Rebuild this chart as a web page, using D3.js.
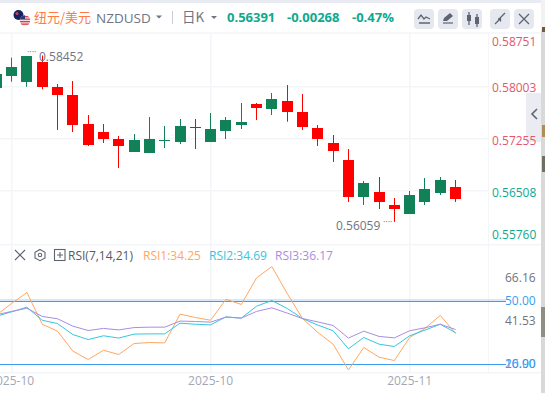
<!DOCTYPE html>
<html>
<head>
<meta charset="utf-8">
<script src="https://cdn.jsdelivr.net/npm/d3@7"></script>
<style>
    html, body { margin: 0; padding: 0; background: #fff; overflow: hidden; }
    svg { display: block; }
    text { font-family: "Open Sans", "Noto Sans CJK SC", sans-serif; }
</style>
</head>
<body>
<script>
const opens = [0.57989, 0.58161, 0.58075, 0.58358, 0.57999, 0.57884, 0.57467, 0.57352, 0.57251, 0.57064, 0.57050, 0.57226, 0.57208, 0.57419, 0.57208, 0.57366, 0.57452, 0.57754, 0.57682, 0.57797, 0.57639, 0.57409, 0.57194, 0.56949, 0.56418, 0.56489, 0.56303, 0.56173, 0.56346, 0.56475, 0.56561];
const highs = [0.58243, 0.58420, 0.58444, 0.58452, 0.58042, 0.58085, 0.57596, 0.57467, 0.57294, 0.57323, 0.57567, 0.57438, 0.57539, 0.57539, 0.57625, 0.57567, 0.57769, 0.57769, 0.57912, 0.58027, 0.57898, 0.57452, 0.57309, 0.57107, 0.56648, 0.56705, 0.56403, 0.56504, 0.56691, 0.56705, 0.56662];
const lows = [0.57956, 0.58075, 0.58003, 0.57966, 0.57381, 0.57352, 0.57151, 0.57194, 0.56834, 0.57064, 0.57050, 0.57122, 0.57179, 0.57107, 0.57208, 0.57251, 0.57395, 0.57524, 0.57596, 0.57500, 0.57381, 0.57151, 0.56921, 0.56346, 0.56303, 0.56245, 0.56059, 0.56173, 0.56303, 0.56446, 0.56346];
const closes = [0.58186, 0.58286, 0.58444, 0.58003, 0.57888, 0.57452, 0.57165, 0.57251, 0.57151, 0.57237, 0.57251, 0.57233, 0.57438, 0.57412, 0.57395, 0.57524, 0.57496, 0.57697, 0.57826, 0.57639, 0.57428, 0.57251, 0.57079, 0.56418, 0.56619, 0.56346, 0.56245, 0.56446, 0.56533, 0.56662, 0.56391];

const rsi1 = [43.0, 48.6, 53.8, 38.7, 35.4, 25.9, 21.9, 26.3, 24.3, 29.5, 30.0, 29.8, 43.5, 41.9, 40.6, 50.6, 48.1, 60.8, 66.16, 53.3, 41.4, 34.8, 29.2, 16.9, 27.6, 23.0, 21.4, 32.4, 36.7, 42.9, 34.25];
const rsi2 = [42.5, 44.6, 46.8, 40.6, 39.0, 33.8, 31.4, 33.2, 32.1, 34.0, 34.1, 34.1, 39.2, 38.7, 38.4, 42.2, 41.6, 47.3, 50.0, 46.2, 41.4, 38.3, 35.6, 27.0, 32.4, 29.2, 28.1, 33.2, 35.9, 38.7, 34.69];
const rsi3 = [43.2, 44.8, 46.3, 42.4, 41.3, 37.8, 35.7, 36.7, 36.0, 37.1, 37.3, 37.3, 40.2, 40.0, 39.7, 42.1, 41.6, 44.8, 46.5, 44.0, 41.4, 39.8, 38.1, 32.1, 35.4, 32.9, 32.2, 35.6, 37.0, 38.7, 36.17];

const priceTicks = [0.58751, 0.58003, 0.57255, 0.56508, 0.55760];
const rsiTicks = [66.16, 50.00, 41.53, 20.00, 16.90];
const rsiLevels = [50, 20];
const timeLabels = ['2025-10', '2025-10', '2025-11'];
const timeIndex = [1, 14, 27];

const width = 545,
    height = 393;

const GREEN = '#118258',
    RED = '#ff0000',
    TEAL = '#0ea98e',
    TICK_RED = '#e4566b',
    GREY = '#6f7482',
    GRID = '#f4f5f8',
    BTN = '#e6e8ef',
    ICON = '#5f6472',
    BLUE = '#3b9cf2';

const svg = d3.select('body')
    .append('svg')
    .attr('width', width)
    .attr('height', height);

const xScale = d3.scaleLinear()
    .domain([0, 30])
    .range([-3.7, 455.6]);

const yPrice = d3.scaleLinear()
    .domain([0.58003, 0.56508])
    .range([86.7, 190.7]);

const yRsi = d3.scaleLinear()
    .domain([50, 20])
    .range([300.5, 363.5]);

// page frame
svg.append('rect').attr('width', width).attr('height', 3).attr('fill', '#e8ebf1');
svg.append('rect').attr('y', 32).attr('width', 541).attr('height', 2).attr('fill', '#f6f7fa');

// grid
const grid = svg.append('g').attr('fill', GRID);
[0.58003, 0.57255, 0.56508].forEach(v => {
    grid.append('rect').attr('x', 0).attr('y', Math.round(yPrice(v)) - 1).attr('width', 488).attr('height', 1.5);
});
timeIndex.forEach(i => {
    grid.append('rect').attr('x', Math.floor(xScale(i))).attr('y', 33).attr('width', 1.5).attr('height', 339);
});
grid.append('rect').attr('x', 488).attr('y', 33).attr('width', 1).attr('height', 339);
grid.append('rect').attr('x', 0).attr('y', 244).attr('width', 541).attr('height', 1.5);
grid.append('rect').attr('x', 0).attr('y', 372).attr('width', 541).attr('height', 1.5);

// candles
const candles = svg.append('g')
    .selectAll('g')
    .data(d3.range(opens.length))
    .enter()
    .append('g')
    .attr('fill', i => closes[i] >= opens[i] ? GREEN : RED);

candles.append('rect')
    .attr('x', i => Math.floor(xScale(i)))
    .attr('y', i => yPrice(highs[i]))
    .attr('width', 1)
    .attr('height', i => yPrice(lows[i]) - yPrice(highs[i]));

candles.append('rect')
    .attr('x', i => Math.floor(xScale(i)) - 5)
    .attr('y', i => Math.round(yPrice(Math.max(opens[i], closes[i]))))
    .attr('width', 11)
    .attr('height', i => Math.max(1, Math.round(Math.abs(yPrice(opens[i]) - yPrice(closes[i])))));

// high / low marks
svg.append('text').attr('x', 27).attr('y', 55).attr('font-size', 9).attr('fill', GREY).text('····');
svg.append('text').attr('x', 39).attr('y', 61).attr('font-size', 12).attr('fill', GREY).text('0.58452');
svg.append('text').attr('x', 336).attr('y', 229.5).attr('font-size', 12).attr('fill', GREY).text('0.56059');
svg.append('text').attr('x', 383).attr('y', 225).attr('font-size', 9).attr('fill', GREY).text('····');

// side drawer tab
svg.append('rect').attr('x', 526).attr('y', 93).attr('width', 15).attr('height', 49).attr('fill', '#ebebf2');
svg.append('path').attr('d', 'M537 109l-5 5 5 5').attr('fill', 'none').attr('stroke', ICON).attr('stroke-width', 1.6);

// price labels, first and last are pushed inside the panel
const priceLabelY = d3.scaleOrdinal().domain(priceTicks).range([46, 92, 145, 197, 238.5]);
svg.append('g')
    .selectAll('text')
    .data(priceTicks)
    .enter()
    .append('text')
    .attr('x', 492)
    .attr('y', d => priceLabelY(d))
    .attr('font-size', 12)
    .attr('fill', (d, i) => i < 3 ? TICK_RED : TEAL)
    .text(d => d3.format('.5f')(d));

// right edge of the screenshot
svg.append('rect').attr('x', 541).attr('width', 4).attr('height', height).attr('fill', '#d9d9d9');
svg.append('rect').attr('x', 541).attr('y', 0).attr('width', 4).attr('height', 30).attr('fill', '#f2f2f2');
svg.append('rect').attr('x', 542).attr('y', 27).attr('width', 3).attr('height', 5).attr('fill', '#6b5a3e');
svg.append('rect').attr('x', 542).attr('y', 125).attr('width', 3).attr('height', 12).attr('fill', '#b08d57');
svg.append('rect').attr('x', 542).attr('y', 156).attr('width', 3).attr('height', 16).attr('fill', '#6f6f60');
svg.append('rect').attr('x', 541).attr('y', 307).attr('width', 4).attr('height', 30).attr('fill', '#8e8e82');

// header
const flags = svg.append('g');
flags.append('circle').attr('cx', 18.5).attr('cy', 15).attr('r', 5).attr('fill', '#12235f');
flags.append('circle').attr('cx', 17).attr('cy', 13.5).attr('r', 1.5).attr('fill', '#c9434f');
const usClip = svg.append('clipPath').attr('id', 'us-flag');
usClip.append('circle').attr('cx', 25).attr('cy', 20.5).attr('r', 5.2);
const us = flags.append('g').attr('clip-path', 'url(#us-flag)');
us.append('rect').attr('x', 19).attr('y', 15).attr('width', 12).attr('height', 12).attr('fill', '#f7dcdc');
[16, 18.5, 21, 23.5].forEach(y => {
    us.append('rect').attr('x', 19).attr('y', y).attr('width', 12).attr('height', 1.3).attr('fill', '#d9404a');
});
us.append('rect').attr('x', 19).attr('y', 15).attr('width', 6).attr('height', 4).attr('fill', '#2b3a78');

svg.append('text').attr('x', 34).attr('y', 22).attr('font-size', 13).attr('fill', '#ff7a45')
    .style('font-family', '"Noto Sans CJK SC", sans-serif').text('纽元/美元');
svg.append('text').attr('x', 96).attr('y', 22.5).attr('font-size', 13.5).attr('fill', GREY).text('NZDUSD');
svg.append('path').attr('d', 'M156 15.5h6l-3 3z').attr('fill', GREY);
svg.append('rect').attr('x', 172).attr('y', 11).attr('width', 1).attr('height', 13).attr('fill', '#c9ccd4');
svg.append('text').attr('x', 182).attr('y', 21.5).attr('font-size', 13.5).attr('fill', GREY)
    .style('font-family', '"Noto Sans CJK SC", sans-serif').text('日K');
svg.append('path').attr('d', 'M211 16h6l-3 3z').attr('fill', GREY);

const quote = svg.append('g').attr('font-size', 13).attr('font-weight', 700).attr('fill', TEAL);
quote.append('text').attr('x', 227).attr('y', 21.5).text('0.56391');
quote.append('text').attr('x', 287).attr('y', 21.5).text('-0.00268');
quote.append('text').attr('x', 352).attr('y', 21.5).text('-0.47%');

// header buttons
const buttonX = [414, 438, 462, 490, 514];
svg.append('g')
    .selectAll('rect')
    .data(buttonX)
    .enter()
    .append('rect')
    .attr('x', d => d)
    .attr('y', 9)
    .attr('width', 20)
    .attr('height', 20)
    .attr('rx', 4)
    .attr('fill', BTN);

const icons = svg.append('g').attr('fill', 'none').attr('stroke', ICON).attr('stroke-width', 1.3);
icons.append('path').attr('d', 'M418 19l3-4 3 4 2-2 4 2M419 23h11');
icons.append('path').attr('d', 'M443 23h10').attr('stroke-width', 1.2);
icons.append('path').attr('d', 'M443 21l1-3 6-5 3 3-6 5z').attr('fill', ICON).attr('stroke', 'none');
icons.append('path').attr('d', 'M469 12v13M477 14v13');
icons.append('rect').attr('x', 467).attr('y', 15).attr('width', 4).attr('height', 6).attr('fill', ICON).attr('stroke', 'none');
icons.append('rect').attr('x', 475).attr('y', 17).attr('width', 4).attr('height', 7).attr('fill', ICON).attr('stroke', 'none');
icons.append('path').attr('d', 'M495 24l5-5M498 19h2.5v2.5M504 14l-5 5M505 13l-5 5');
icons.append('path').attr('d', 'M519 14l10 10M529 14l-10 10');

// RSI legend
const rsiIcons = svg.append('g').attr('fill', 'none').attr('stroke', ICON).attr('stroke-width', 1.1);
rsiIcons.append('path').attr('d', 'M15 250l10 10M25 250l-10 10');
rsiIcons.append('path').attr('d', 'M40 249.5l5 2.8v5.6l-5 2.8-5-2.8v-5.6z');
rsiIcons.append('circle').attr('cx', 40).attr('cy', 255).attr('r', 1.7);
rsiIcons.append('rect').attr('x', 54.5).attr('y', 249.5).attr('width', 10.5).attr('height', 11);
rsiIcons.append('path').attr('d', 'M60 252v6M57 255h6');
svg.append('text').attr('x', 68).attr('y', 259.5).attr('font-size', 12).attr('fill', '#555a66').text('RSI(7,14,21)');
svg.append('text').attr('x', 143).attr('y', 259.5).attr('font-size', 12).attr('fill', '#ffa75f').text('RSI1:34.25');
svg.append('text').attr('x', 209).attr('y', 259.5).attr('font-size', 12).attr('fill', '#35c6e0').text('RSI2:34.69');
svg.append('text').attr('x', 275).attr('y', 259.5).attr('font-size', 12).attr('fill', '#a98de4').text('RSI3:36.17');

// RSI level lines
svg.append('rect').attr('x', 0).attr('y', 299.5).attr('width', 506).attr('height', 1).attr('fill', '#a9d4fa');
svg.append('g')
    .selectAll('rect')
    .data(rsiLevels)
    .enter()
    .append('rect')
    .attr('x', 0)
    .attr('y', d => Math.round(yRsi(d)))
    .attr('width', 506)
    .attr('height', 1)
    .attr('fill', BLUE);

// RSI lines
const rsiLine = d3.line()
    .x((d, i) => xScale(i))
    .y(d => yRsi(d));

svg.append('g')
    .attr('fill', 'none')
    .attr('stroke-width', 1)
    .selectAll('path')
    .data([
        { values: rsi1, color: '#ffa75f' },
        { values: rsi2, color: '#35c6e0' },
        { values: rsi3, color: '#a98de4' }
    ])
    .enter()
    .append('path')
    .attr('stroke', d => d.color)
    .attr('d', d => rsiLine(d.values));

// RSI labels, top and bottom ones are pushed inside the panel
const rsiLabelY = d3.scaleOrdinal().domain(rsiTicks).range([282, 304.5, 324.5, 367.5, 367.5]);
svg.append('g')
    .selectAll('text')
    .data(rsiTicks)
    .enter()
    .append('text')
    .attr('x', 505)
    .attr('y', d => rsiLabelY(d))
    .attr('font-size', 12)
    .attr('fill', d => rsiLevels.includes(d) || d === 16.90 ? BLUE : GREY)
    .text(d => d3.format('.2f')(d));

// time labels
svg.append('g')
    .selectAll('text')
    .data(timeLabels)
    .enter()
    .append('text')
    .attr('x', (d, i) => xScale(timeIndex[i]))
    .attr('y', 385)
    .attr('text-anchor', 'middle')
    .attr('font-size', 12)
    .attr('fill', '#a3a7b3')
    .text(d => d);
</script>
</body>
</html>
